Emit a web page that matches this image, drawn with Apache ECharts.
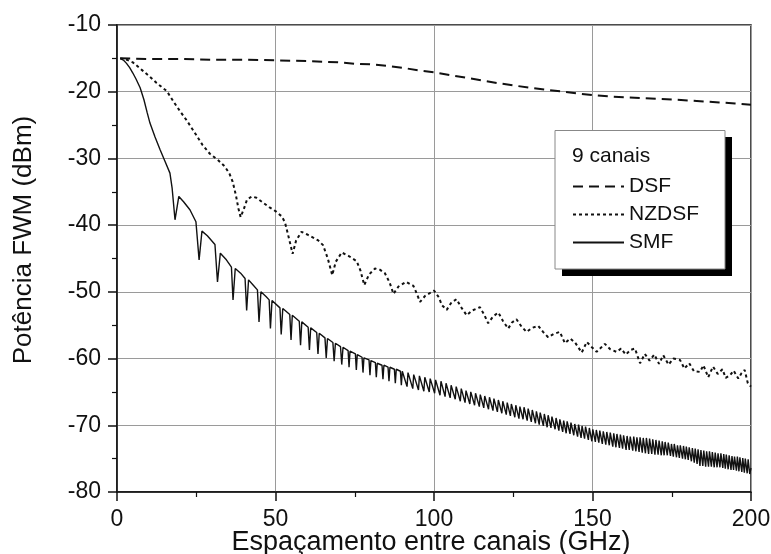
<!DOCTYPE html>
<html>
<head>
<meta charset="utf-8">
<script src="https://cdn.jsdelivr.net/npm/echarts@6/dist/echarts.min.js"></script>
<style>
html,body{margin:0;padding:0;background:#fff;}
#chart{width:771px;height:554px;}
</style>
</head>
<body>
<div id="chart"></div>
<script>
const xTicks = [0, 50, 100, 150, 200];
const yTicks = [-80, -70, -60, -50, -40, -30, -20, -10];
const seriesNames = ['DSF', 'NZDSF', 'SMF'];
const legendTitle = '9 canais';
const xTitle = 'Espaçamento entre canais (GHz)';
const yTitle = 'Potência FWM (dBm)';

const dsf = [[1,-15],[10,-15.1],[20,-15.1],[30,-15.2],[40,-15.2],[50,-15.3],[60,-15.4],[70,-15.6],[75,-15.8],[80,-15.9],[85,-16.1],[90,-16.4],[95,-16.8],[100,-17.1],[105,-17.5],[110,-17.9],[115,-18.3],[120,-18.7],[125,-19.05],[130,-19.4],[135,-19.7],[140,-19.95],[145,-20.25],[150,-20.5],[155,-20.7],[160,-20.85],[165,-20.95],[170,-21.05],[175,-21.15],[180,-21.3],[185,-21.45],[190,-21.6],[195,-21.75],[200,-21.95]];

const nzdsf = [[1,-15],[3,-15.2],[5,-15.6],[8,-16.8],[10,-17.6],[12.5,-18.7],[15.7,-19.9],[18,-21.6],[20,-23],[22,-24.3],[25,-26.5],[27,-28],[29.3,-29.3],[32,-30.3],[34,-31.2],[35.5,-32.3],[36.5,-33.5],[37.5,-35.5],[38.3,-37.5],[39,-38.8],[40,-37.6],[41,-36.2],[42.5,-35.7],[44,-35.9],[46,-36.6],[48,-37.3],[50,-37.9],[52,-38.7],[53,-39.6],[54,-41.5],[55.4,-44.3],[56.5,-42.3],[58.2,-41],[60,-41.4],[62,-41.9],[63.5,-42.3],[65,-43],[66.5,-45],[67.9,-47.5],[69,-45.5],[70.9,-44.1],[73,-44.6],[75.6,-45.4],[76.8,-46.8],[78,-49],[79.5,-47.4],[81.4,-46.5],[83,-46.7],[84.5,-47.2],[86,-48.6],[87.2,-50.3],[88.8,-49.2],[91.2,-48.5],[93.5,-49.1],[94.5,-50.2],[95.6,-51.5],[97.2,-50.6],[100,-49.8],[101.5,-50.8],[102.5,-52],[104,-52.7],[105.5,-51.6],[107.1,-51.1],[108.7,-52.4],[110.3,-53.5],[112,-52.8],[114.5,-52.3],[115.8,-53.4],[117.1,-54.7],[118.6,-53.7],[120.3,-53.1],[121.8,-54.4],[123.4,-55.5],[124.6,-54.6],[126,-54.1],[127.6,-55.2],[129.2,-56],[130.9,-55.4],[132.9,-55.1],[134.4,-56],[136,-56.8],[137.8,-56.3],[139.7,-56],[141.3,-57.7],[143,-57],[144.5,-57.6],[146.6,-59.1],[148.2,-57.5],[149.8,-58.3],[151.3,-59],[153.9,-57.8],[155.6,-58.6],[157.6,-59],[159,-58.5],[160.5,-59.4],[162,-58.7],[163.4,-58.5],[165,-60.7],[166.5,-59.3],[168,-60.3],[169.5,-59.4],[171,-60.8],[172.3,-59.5],[174,-60.9],[175.5,-60],[177.6,-60.2],[179,-61.5],[180.5,-60.7],[182,-61.9],[183.9,-62],[185,-61],[186.5,-62.8],[188,-61.2],[189.5,-62.3],[191,-61.6],[192,-62.9],[193.4,-62.5],[194.5,-61.8],[196,-63],[197,-62.2],[198,-61.7],[199,-63.7],[200,-64.2]];

const smf = [[1,-15],[2,-15.25],[3,-15.75],[4,-16.4],[5,-17.2],[6,-18.1],[7.3,-19.4],[8.5,-21.2],[9.5,-23.1],[10.4,-24.7],[12,-26.8],[13.6,-28.7],[15.2,-30.5],[16.7,-32.2],[17.4,-34.5],[18.3,-39.2],[19.5,-35.7],[21,-36.5],[23,-37.7],[24.9,-39.5],[25.9,-45.2],[26.8,-40.9],[28.5,-41.6],[30.9,-42.9],[31.7,-48.5],[32.6,-44.2],[34.5,-45.2],[36.1,-46.3],[36.6,-51.2],[37.3,-46.5],[39,-47.2],[40.4,-48],[40.9,-52.8],[41.5,-48.2],[43,-49],[44.3,-49.7],[44.8,-54.5],[45.4,-50],[47,-50.7],[48,-51.2],[48.4,-55.5],[48.9,-51.3],[51.4,-52.4],[51.8,-56.4],[52.3,-52.5],[54.5,-53.4],[54.9,-57.2],[55.3,-53.5],[57.5,-54.4],[57.9,-58],[58.3,-54.5],[60.3,-55.3],[60.7,-58.7],[61.1,-55.4],[63.0,-56.1],[63.4,-59.3],[63.8,-56.2],[65.6,-56.9],[66.0,-59.9],[66.4,-57.0],[68.1,-57.6],[68.5,-60.4],[68.9,-57.7],[70.5,-58.2],[70.9,-60.9],[71.3,-58.3],[72.9,-58.8],[73.2,-61.3],[73.5,-58.9],[75.2,-59.3],[75.5,-61.7],[75.8,-59.4],[77.3,-59.8],[77.6,-62.1],[77.9,-59.9],[79.5,-60.2],[79.8,-62.5],[80.1,-60.3],[81.5,-60.6],[81.8,-62.8],[82.1,-60.7],[83.6,-61.0],[83.9,-63.1],[84.2,-61.0],[85.5,-61.3],[85.8,-63.4],[86.1,-61.3],[87.5,-61.6],[87.8,-63.7],[88.1,-61.6],[89.4,-61.9],[89.7,-64.0],[90.0,-61.9],[91.5,-64.2],[91.8,-62.1],[93.3,-64.5],[93.6,-62.4],[95.1,-64.7],[95.4,-62.6],[96.8,-64.9],[97.1,-62.8],[98.5,-65.0],[98.8,-63.0],[100.2,-65.2],[100.5,-63.2],
[101.9,-65.5],[102.2,-63.4],[103.5,-65.7],[103.8,-63.7],[105.1,-65.9],[105.4,-64.0],[106.7,-66.1],[107.0,-64.2],[108.3,-66.4],[108.6,-64.5],[109.8,-66.6],[110.1,-64.8],[111.3,-66.8],[111.6,-65.0],[112.8,-67.0],[113.1,-65.2],[114.3,-67.2],[114.6,-65.4],[115.7,-67.4],[116.0,-65.6],[117.2,-67.6],[117.5,-65.8],[118.6,-67.8],[118.9,-66.0],[120.0,-68.0],[120.3,-66.2],[121.4,-68.2],[121.7,-66.4],[122.8,-68.4],[123.1,-66.6],[124.1,-68.6],[124.4,-66.8],[125.5,-68.8],[125.8,-67.0],[126.8,-69.0],[127.1,-67.2],[128.1,-69.1],[128.4,-67.3],[129.4,-69.3],[129.7,-67.5],[130.7,-69.5],[131.0,-67.7],[132.0,-69.7],[132.3,-67.9],[133.2,-69.9],[133.5,-68.1],[134.5,-70.1],[134.8,-68.3],[135.7,-70.3],[136.0,-68.5],[136.9,-70.4],[137.2,-68.7],[138.2,-70.6],[138.5,-68.9],[139.4,-70.8],[139.7,-69.1],[140.6,-71.0],[140.9,-69.3],[141.7,-71.2],[142.0,-69.4],[142.9,-71.3],[143.2,-69.6],[144.1,-71.5],[144.4,-69.8],[145.3,-71.7],[145.6,-69.9],[146.4,-71.9],[146.7,-70.1],[147.5,-72.0],[147.8,-70.2],[148.7,-72.2],[149.0,-70.4],[149.8,-72.4],[150.1,-70.6],[150.9,-72.5],[151.2,-70.7],[152.0,-72.6],[152.3,-70.8],[153.1,-72.8],[153.4,-70.9],[154.2,-72.9],[154.5,-71.0],[155.3,-73.0],[155.6,-71.1],[156.4,-73.2],[156.7,-71.2],[157.4,-73.3],[157.7,-71.3],[158.5,-73.4],[158.8,-71.4],[159.5,-73.5],[159.8,-71.5],[160.6,-73.7],[160.9,-71.6],[161.6,-73.7],[161.9,-71.7],[162.7,-73.8],[163.0,-71.7],[163.7,-73.9],[164.0,-71.8],[164.7,-74.0],[165.0,-71.8],[165.7,-74.1],[166.0,-71.9],[166.7,-74.2],[167.0,-71.9],[167.7,-74.3],[168.0,-72.0],[168.7,-74.3],[169.0,-72.1],[169.7,-74.4],[170.0,-72.2],[170.7,-74.4],[171.0,-72.3],[171.7,-74.5],[172.0,-72.4],[172.6,-74.5],[172.9,-72.5],[173.6,-74.5],[173.9,-72.6],[174.6,-74.6],[174.9,-72.8],[175.5,-74.7],[175.8,-72.8],[176.5,-74.8],[176.8,-73.0],[177.4,-74.9],[177.7,-73.0],[178.4,-75.0],[178.7,-73.1],[179.3,-75.1],[179.6,-73.2],[180.2,-75.2],[180.5,-73.3],[181.2,-75.4],[181.5,-73.4],[182.1,-75.6],[182.4,-73.5],[183.0,-75.8],[183.3,-73.6],[183.9,-76.1],[184.2,-73.7],[184.8,-76.1],[185.1,-73.8],[185.7,-76.2],[186.0,-73.9],[186.6,-76.2],[186.9,-73.9],[187.5,-76.2],[187.8,-74.0],[188.4,-76.3],[188.7,-74.1],[189.3,-76.3],[189.6,-74.2],[190.2,-76.3],[190.5,-74.2],[191.1,-76.4],[191.4,-74.3],[191.9,-76.5],[192.2,-74.4],[192.8,-76.6],[193.1,-74.5],[193.7,-76.7],[194.0,-74.6],[194.5,-76.7],[194.8,-74.7],[195.4,-76.8],[195.7,-74.7],[196.2,-76.9],[196.5,-74.8],[197.1,-77.0],[197.4,-74.9],[197.9,-77.1],[198.2,-75.0],[198.8,-77.2],[199.1,-75.1],[199.6,-77.3],[200,-76.4]];

const FONT = 'Liberation Sans, Arial, Helvetica, sans-serif';
const chart = echarts.init(document.getElementById('chart'), null, {renderer: 'canvas'});

const option = {
  backgroundColor: '#ffffff',
  animation: false,
  grid: {left: 117, right: 20, top: 25, bottom: 62, show: true, borderColor: '#111', borderWidth: 1.5,
         backgroundColor: 'transparent', containLabel: false, outerBoundsMode: 'none'},
  xAxis: {
    type: 'value', min: xTicks[0], max: xTicks[xTicks.length - 1], interval: 50,
    axisLine: {show: true, lineStyle: {color: '#111', width: 1.5}},
    axisTick: {show: true, inside: false, length: 9, lineStyle: {color: '#111', width: 1.5}},
    minorTick: {show: true, splitNumber: 2, length: 5, lineStyle: {color: '#111', width: 1.2}},
    axisLabel: {fontFamily: FONT, fontSize: 23, color: '#111', margin: 16},
    splitLine: {show: true, lineStyle: {color: '#9a9a9a', width: 1}}
  },
  yAxis: {
    type: 'value', min: yTicks[0], max: yTicks[yTicks.length - 1], interval: 10,
    axisLine: {show: true, lineStyle: {color: '#111', width: 1.5}},
    axisTick: {show: true, inside: false, length: 9, lineStyle: {color: '#111', width: 1.5}},
    minorTick: {show: true, splitNumber: 2, length: 5, lineStyle: {color: '#111', width: 1.2}},
    axisLabel: {fontFamily: FONT, fontSize: 23, color: '#111', margin: 16},
    splitLine: {show: true, lineStyle: {color: '#9a9a9a', width: 1}}
  },
  legend: {
    show: true, orient: 'vertical', left: 572, top: 176, itemWidth: 51, itemHeight: 14, itemGap: 7,
    z: 30, padding: 0,
    itemStyle: {opacity: 0},
    textStyle: {fontFamily: FONT, fontSize: 21, color: '#111'},
    data: seriesNames
  },
  graphic: [
    {type: 'rect', z: 20, shape: {x: 562, y: 137, width: 170, height: 139}, style: {fill: '#000'}},
    {type: 'rect', z: 21, shape: {x: 555, y: 130.5, width: 170, height: 138.5}, style: {fill: '#fff', stroke: '#888', lineWidth: 1}},
    {type: 'text', z: 22, left: 572, top: 146, style: {text: legendTitle, font: '21px ' + FONT, fill: '#111'}},
    {type: 'text', z: 22, x: 24, y: 240, rotation: Math.PI / 2,
     style: {text: yTitle, font: '26px ' + FONT, fill: '#111', align: 'center', verticalAlign: 'middle'}},
    {type: 'text', z: 22, x: 431, y: 543,
     style: {text: xTitle, font: '27px ' + FONT, fill: '#111', align: 'center', verticalAlign: 'middle'}}
  ],
  series: [
    {name: seriesNames[0], type: 'line', data: dsf, showSymbol: false, symbol: 'none', smooth: false,
     lineStyle: {color: '#111', width: 2, type: [10, 6]}, itemStyle: {color: '#111'}, z: 3},
    {name: seriesNames[1], type: 'line', data: nzdsf, showSymbol: false, symbol: 'none', smooth: false,
     lineStyle: {color: '#111', width: 2, type: [3, 3]}, itemStyle: {color: '#111'}, z: 3},
    {name: seriesNames[2], type: 'line', data: smf, showSymbol: false, symbol: 'none', smooth: false, sampling: null,
     lineStyle: {color: '#111', width: 1.4, type: 'solid'}, itemStyle: {color: '#111'}, z: 3}
  ]
};
chart.setOption(option);
</script>
</body>
</html>
